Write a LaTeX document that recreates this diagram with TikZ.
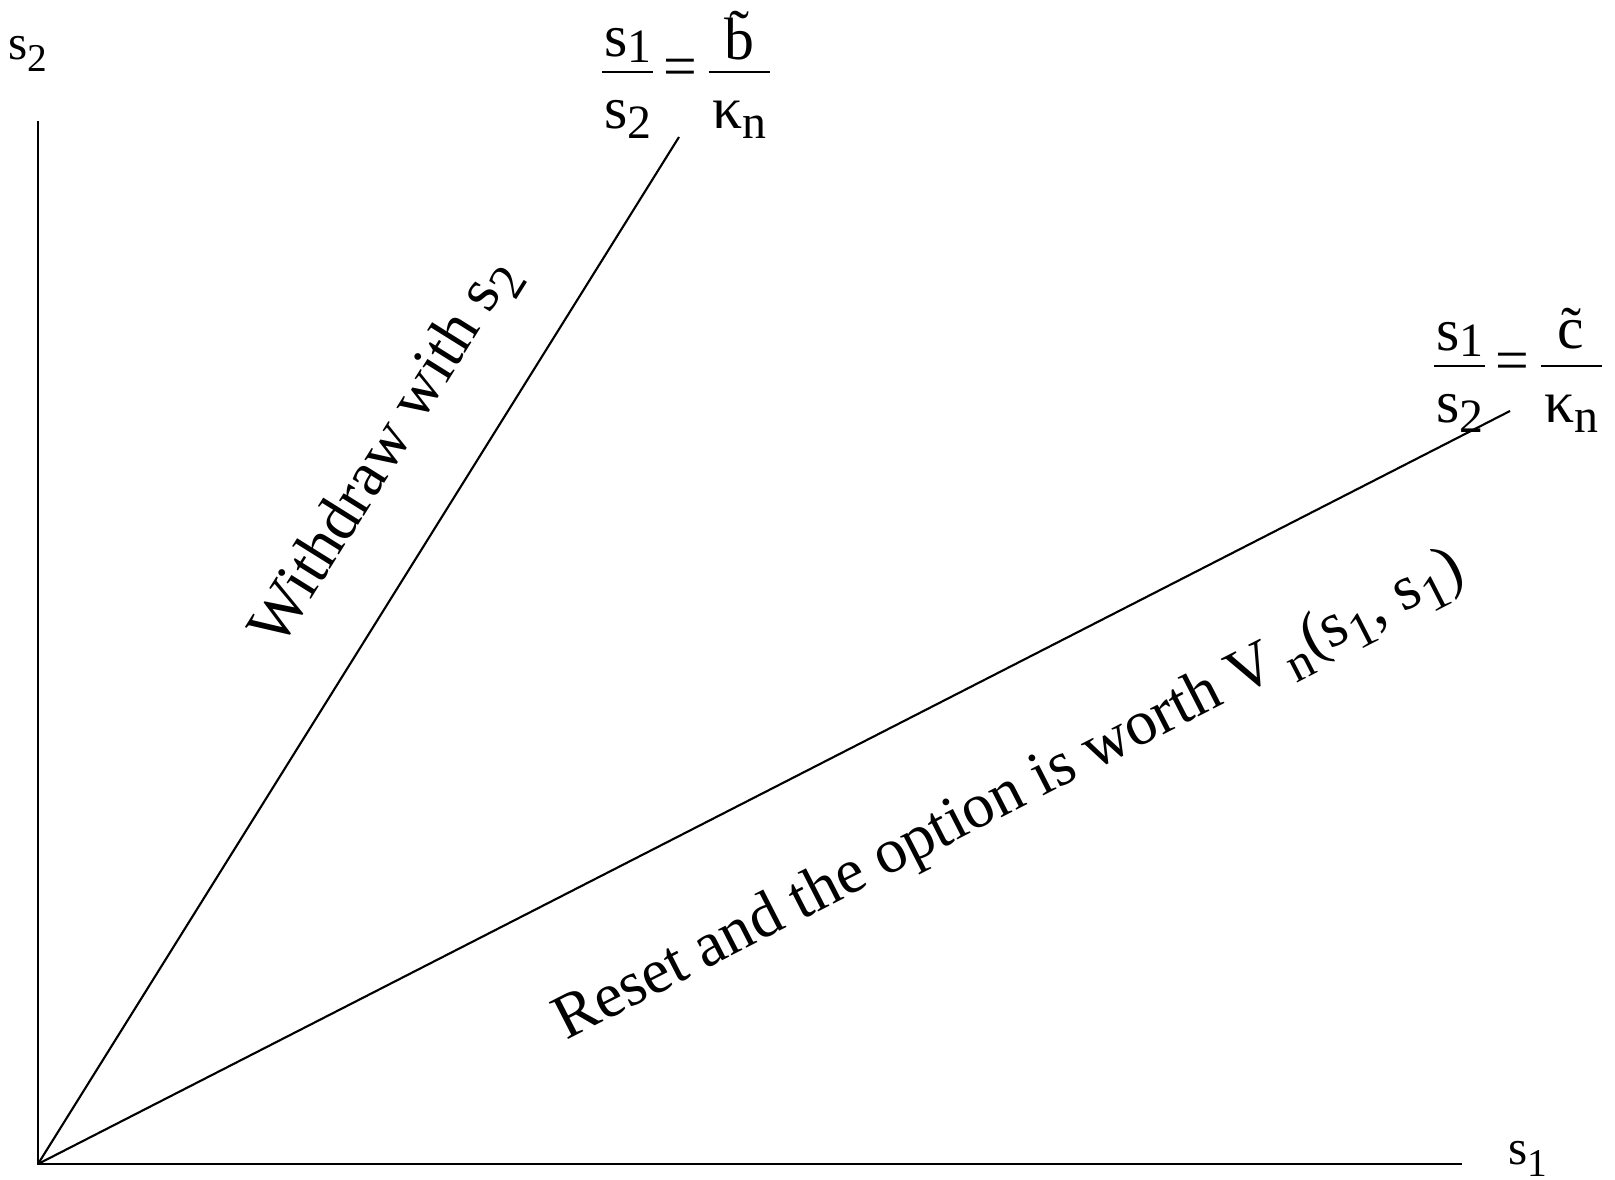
\documentclass[tikz,border=0pt]{standalone}
\usepackage{amsmath}
\usepackage{graphicx}
\usepackage{fontspec}
\setmainfont{Liberation Serif}
\usetikzlibrary{positioning}

% lowered, slightly smaller index as in the figure
\newcommand{\lo}[2][-0.5ex]{\raisebox{#1}{\scalebox{0.8}{#2}}}
% numerator set closer to the bar
\newcommand{\upper}[2][-0.18em]{\raisebox{#1}[\height][0pt]{#2}}
% letter with a tilde just above it
\newcommand{\tld}[2][0pt]{\ooalign{#2\cr\hidewidth\raisebox{#1}{˜}\hidewidth\cr}}

\begin{document}
\begin{tikzpicture}[
  x=0.01cm, y=-0.01cm,
  axis/.style={line width=0.6pt},
  ray/.style={line width=0.6pt},
  axlabel/.style={font=\fontsize{14}{16}\selectfont, inner sep=0pt},
  ratio/.style={font=\fontsize{17}{20}\selectfont, inner sep=0pt, anchor=base},
  region/.style={font=\fontsize{18}{22}\selectfont, inner sep=0pt},
]
  \useasboundingbox (0,0) rectangle (1615,1180);

  \coordinate (origin) at (38,1164);
  \coordinate (s2top) at (38,121);
  \coordinate (s1end) at (1462,1164);
  \coordinate (bend) at (679,137);
  \coordinate (cend) at (1510,411);

  % axes
  \draw[axis] (s2top) -- (origin) -- (s1end);
  \node[axlabel] (s2lab) at (28,54) {s\lo{2}};
  \node[axlabel] (s1lab) at (1528,1159) {s\lo{1}};

  % boundary rays
  \draw[ray] (origin) -- (bend);
  \draw[ray] (origin) -- (cend);
  \node[ratio] (bratio) at (686,87)
    {$\dfrac{\kern0.5pt\upper{s\lo[-0.2ex]{1}}\kern0.5pt}{\kern0.5pt\text{s\lo[-0.35ex]{2}}\kern0.5pt}
      \mspace{2mu}\text{=}\mspace{2mu}
      \dfrac{\kern1pt\upper[-0.22em]{\tld[0.12em]{b}}\kern1pt}{\kern1pt\text{κ\lo[-0.35ex]{n}}\kern1pt}$};
  \node[ratio] (cratio) at (1518,381)
    {$\dfrac{\kern0.5pt\upper{s\lo[-0.2ex]{1}}\kern0.5pt}{\kern0.5pt\text{s\lo[-0.35ex]{2}}\kern0.5pt}
      \mspace{2mu}\text{=}\mspace{2mu}
      \dfrac{\kern1pt\upper[-0.15em]{\tld{c}}\kern1pt}{\kern1pt\text{κ\lo[-0.35ex]{n}}\kern1pt}$};

  % regions
  \node[region, rotate=58] (withdraw) at (386,453)
    {Withdraw with s\lo{2}};
  \node[region, rotate=27.1] (reset) at (1010,797)
    {Reset and the option is worth V\,\lo{n}(s\lo{1}, s\lo{1})};
\end{tikzpicture}
\end{document}
